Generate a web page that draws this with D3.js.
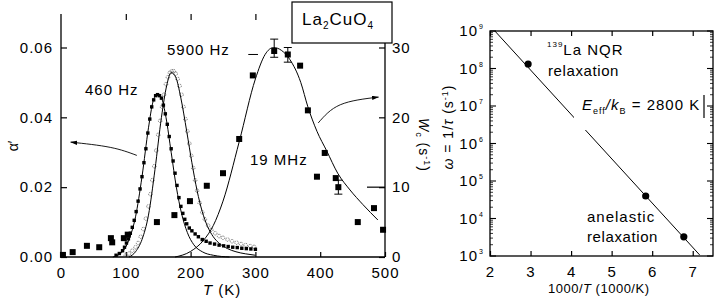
<!DOCTYPE html>
<html><head><meta charset="utf-8">
<script src="https://cdn.jsdelivr.net/npm/d3@7"></script>
<style>
body{margin:0;background:#fff}
svg{display:block}
text{font-family:"Liberation Sans",Arial,sans-serif;fill:#000}
</style></head><body><svg id="c" width="722" height="306"></svg>
<script>
// ---- Left panel data: anelastic loss alpha' vs T ----
const T460=[85,90,95,98,101,104,107,110,113,116,119,122,125,128,131,134,137,140,143,146,149,152,155,158,161,164,167,170,173,176,179,182,185,188,191,194,198,202,207,212,218,224,230,237,244,251,258,265,272,279,286,293,300];
const A460=[0.0005,0.001,0.0018,0.0028,0.004,0.0052,0.0068,0.0085,0.0105,0.013,0.016,0.0195,0.023,0.027,0.031,0.0355,0.0395,0.043,0.045,0.0462,0.0465,0.0462,0.0455,0.0435,0.041,0.038,0.0345,0.031,0.0275,0.024,0.0205,0.017,0.0145,0.0125,0.0108,0.0095,0.0083,0.0075,0.0066,0.0058,0.005,0.0045,0.004,0.0037,0.0034,0.0032,0.003,0.0028,0.0027,0.0025,0.0024,0.0023,0.0022];
const T460fit=[80,95,105,115,125,135,142,148,155,162,170,178,186,195,205,218,235,260];
const A460fit=[0,0.0015,0.005,0.0115,0.023,0.037,0.0445,0.0465,0.0455,0.040,0.030,0.020,0.0125,0.007,0.0035,0.0015,0.0005,0];
const T5900=[100,105,110,115,119,123,127,131,135,138,141,144,147,150,153,156,159,162,165,168,171,174,177,180,183,186,189,192,195,198,201,204,207,210,214,218,222,227,232,238,244,250,257,264,271,278,285,292,298];
const A5900=[0.0005,0.001,0.0018,0.0028,0.004,0.0058,0.008,0.011,0.0145,0.018,0.022,0.026,0.0305,0.035,0.039,0.043,0.0465,0.0495,0.0515,0.0528,0.0532,0.0532,0.0525,0.051,0.049,0.0465,0.043,0.0395,0.036,0.0325,0.029,0.0255,0.022,0.019,0.0155,0.0128,0.0108,0.009,0.0078,0.0068,0.006,0.0055,0.005,0.0045,0.0041,0.0037,0.0034,0.0031,0.0029];
const T5900fit=[105,115,125,135,145,155,163,170,177,185,194,202,210,218,226,235,245,257,270,285,300];
const A5900fit=[0,0.0015,0.005,0.012,0.025,0.040,0.049,0.0528,0.0515,0.0455,0.036,0.027,0.019,0.013,0.0088,0.0058,0.0038,0.0024,0.0015,0.0009,0.0005];
// 19 MHz NQR relaxation rate W_c (right axis)
const T19=[3,18,40,59,77,79,97,103,148,175,199,225,250,275,296,329,350,369,381,395,407,424,428,458,483,497];
const W19=[0.3,0.7,1.6,1.4,2.7,2.1,2.7,3.2,5.0,6.0,8.0,10.2,12.0,16.9,26.0,29.5,29.0,27.4,21.0,11.5,14.9,11.3,10.0,5.0,7.0,3.9];
const T19fit=[176,200,220,235,250,275,300,315,328,340,353,370,381,395,410,427,446,466,489];
const W19fit=[0,0.8,2.4,4.5,8.0,16.5,25.5,29,30,29.6,28.3,25,21.5,18,15.2,12.0,9.6,7.5,5.3];
const errT=[329,350,428];
const errLo=[28.6,27.9,9.0];
const errHi=[31.2,30.0,11.0];
const xTicksL=[0,100,200,300,400,500];
const aTicks=[0,0.02,0.04,0.06];
const wTicks=[0,10,20,30];
// ---- Right panel data: Arrhenius plot ----
const invT=[2.94,5.84,6.78];
const rate=[1.32e8,3.98e4,3.24e3];
const invTfit=[2.12,7.17];
const rateFit=[1e9,1.07e3];
const xTicksR=[2,3,4,5,6,7];
const rExps=[3,4,5,6,7,8,9];

const svg=d3.select("#c");
const ls="letter-spacing:1px";

// scales
const xL=d3.scaleLinear([0,500],[61,385]);
const yA=d3.scaleLinear([0,0.06],[257,47.5]);
const yW=d3.scaleLinear([0,30],[257,47.5]);
const xR=d3.scaleLinear([2,7.5],[490,713]);
const yR=d3.scaleLog([1e3,1e9],[256,31]);

svg.append("defs").append("marker").attr("id","ah").attr("viewBox","0 0 10 6")
  .attr("refX",9).attr("refY",3).attr("markerWidth",8).attr("markerHeight",5).attr("orient","auto")
  .append("path").attr("d","M0,0L10,3L0,6z").attr("fill","#000");

// ===== LEFT PANEL =====
const gL=svg.append("g");
// axes lines
gL.append("line").attr("x1",xL(0)).attr("x2",xL(0)).attr("y1",yA(0)).attr("y2",14).attr("stroke","#000").attr("stroke-width",1.3);
gL.append("line").attr("x1",xL(0)).attr("x2",xL(500)).attr("y1",yA(0)).attr("y2",yA(0)).attr("stroke","#000").attr("stroke-width",1.3);
gL.append("line").attr("x1",xL(500)).attr("x2",xL(500)).attr("y1",yA(0)).attr("y2",43).attr("stroke","#000").attr("stroke-width",1.3);

function styleAxis(g,fs){
  g.select(".domain").remove();
  g.selectAll(".tick line").attr("stroke","#000").attr("stroke-width",1.2);
  g.selectAll(".tick text").attr("font-size",fs).attr("fill","#000").attr("style",ls);
}
const axB=gL.append("g").attr("transform",`translate(0,${yA(0)})`)
  .call(d3.axisBottom(xL).tickValues(xTicksL).tickFormat(d3.format("d")).tickSizeInner(-5).tickSizeOuter(0).tickPadding(10));
styleAxis(axB,15);
const axT=gL.append("g").attr("transform","translate(0,14)")
  .call(d3.axisTop(xL).tickValues(xTicksL.slice(1,4)).tickFormat("").tickSizeInner(-6).tickSizeOuter(0));
styleAxis(axT,15);
const axLft=gL.append("g").attr("transform",`translate(${xL(0)},0)`)
  .call(d3.axisLeft(yA).tickValues(aTicks).tickFormat(d3.format(".2f")).tickSizeInner(-6).tickSizeOuter(0).tickPadding(8));
styleAxis(axLft,15);
const axR=gL.append("g").attr("transform",`translate(${xL(500)},0)`)
  .call(d3.axisRight(yW).tickValues(wTicks).tickFormat(d3.format("d")).tickSizeInner(-6).tickSizeOuter(0).tickPadding(7));
styleAxis(axR,15);
// long inner tick at W=10
gL.append("line").attr("x1",xL(500)).attr("x2",xL(500)-18).attr("y1",yW(10)).attr("y2",yW(10)).attr("stroke","#000").attr("stroke-width",1.2);

// 5900 Hz open circles
gL.append("g").selectAll("circle").data(T5900).join("circle")
  .attr("cx",(d)=>xL(d)).attr("cy",(d,i)=>yA(A5900[i])).attr("r",1.8)
  .attr("fill","none").attr("stroke","#555").attr("stroke-width",0.8).attr("stroke-dasharray","1.2,0.8");
// 460 Hz filled markers
gL.append("g").selectAll("rect").data(T460).join("rect")
  .attr("x",(d)=>xL(d)-1.7).attr("y",(d,i)=>yA(A460[i])-1.7).attr("width",3.4).attr("height",3.4).attr("fill","#000");
// fits
const lineA=(T,A)=>d3.line().x((d)=>xL(d)).y((d,i)=>yA(A[i])).curve(d3.curveMonotoneX)(T);
gL.append("path").attr("d",lineA(T460fit,A460fit)).attr("fill","none").attr("stroke","#000").attr("stroke-width",1);
gL.append("path").attr("d",lineA(T5900fit,A5900fit)).attr("fill","none").attr("stroke","#000").attr("stroke-width",1);
const lineW=d3.line().x((d)=>xL(d)).y((d,i)=>yW(W19fit[i])).curve(d3.curveMonotoneX);
gL.append("path").attr("d",lineW(T19fit)).attr("fill","none").attr("stroke","#000").attr("stroke-width",1);
// 19 MHz squares
gL.append("g").selectAll("rect").data(T19).join("rect")
  .attr("x",(d)=>xL(d)-3).attr("y",(d,i)=>yW(W19[i])-3).attr("width",6).attr("height",6).attr("fill","#000");
// error bars
const eg=gL.append("g").attr("stroke","#000").attr("stroke-width",1);
errT.forEach((t,i)=>{
  eg.append("line").attr("x1",xL(t)).attr("x2",xL(t)).attr("y1",yW(errLo[i])).attr("y2",yW(errHi[i]));
  eg.append("line").attr("x1",xL(t)-4).attr("x2",xL(t)+4).attr("y1",yW(errLo[i])).attr("y2",yW(errLo[i]));
  eg.append("line").attr("x1",xL(t)-4).attr("x2",xL(t)+4).attr("y1",yW(errHi[i])).attr("y2",yW(errHi[i]));
});
eg.append("line").attr("x1",xL(289)).attr("x2",xL(304)).attr("y1",yW(29)).attr("y2",yW(29));

// arrows
const arrL=[[117,0.0291],[76,0.0314],[15,0.0329]];
const arrR=[[397,19.2],[431,21.8],[490,22.9]];
gL.append("path").attr("d",d3.line().x((d)=>xL(d[0])).y((d)=>yA(d[1])).curve(d3.curveNatural)(arrL))
  .attr("fill","none").attr("stroke","#000").attr("stroke-width",0.9).attr("marker-end","url(#ah)");
gL.append("path").attr("d",d3.line().x((d)=>xL(d[0])).y((d)=>yW(d[1])).curve(d3.curveNatural)(arrR))
  .attr("fill","none").attr("stroke","#000").attr("stroke-width",0.9).attr("marker-end","url(#ah)");

// legend box
gL.append("rect").attr("x",292).attr("y",2).attr("width",100).attr("height",41).attr("fill","#fff").attr("stroke","#000").attr("stroke-width",1.2);
gL.append("text").attr("x",302).attr("y",25).attr("font-size",17).attr("style",ls)
  .html('La<tspan font-size="10" dy="4">2</tspan><tspan dy="-4">CuO</tspan><tspan font-size="10" dy="4">4</tspan>');
// labels
gL.append("text").attr("x",167).attr("y",55).attr("font-size",15).attr("style",ls).text("5900 Hz");
gL.append("text").attr("x",85).attr("y",95).attr("font-size",15).attr("style",ls).text("460 Hz");
gL.append("text").attr("x",250).attr("y",165).attr("font-size",15).attr("style",ls).text("19 MHz");
gL.append("text").attr("x",203).attr("y",295).attr("font-size",15).attr("style",ls)
  .html('<tspan font-style="italic">T</tspan> (K)');
gL.append("text").attr("transform","translate(18,146) rotate(-90)").attr("text-anchor","middle").attr("font-size",14).text("α′");
gL.append("text").attr("transform","translate(419,118) rotate(90)").attr("font-size",14).attr("style",ls)
  .html('<tspan font-style="italic">W</tspan><tspan font-size="9" dy="3">c</tspan><tspan dy="-3"> (s</tspan><tspan font-size="9" dy="-5">-1</tspan><tspan dy="5">)</tspan>');

// ===== RIGHT PANEL =====
const gR=svg.append("g");
gR.append("rect").attr("x",xR(2)).attr("y",yR(1e9)).attr("width",xR(7.5)-xR(2)).attr("height",yR(1e3)-yR(1e9))
  .attr("fill","none").attr("stroke","#000").attr("stroke-width",1.3);
const axRB=gR.append("g").attr("transform",`translate(0,${yR(1e3)})`)
  .call(d3.axisBottom(xR).tickValues(xTicksR).tickFormat(d3.format("d")).tickSizeInner(-5).tickSizeOuter(0).tickPadding(10));
styleAxis(axRB,15);
const axRT=gR.append("g").attr("transform",`translate(0,${yR(1e9)})`)
  .call(d3.axisTop(xR).tickValues(xTicksR).tickFormat("").tickSizeInner(-5).tickSizeOuter(0));
styleAxis(axRT,15);
// log ticks
const minor=[];
rExps.slice(0,-1).forEach(e=>{for(let m=2;m<=9;m++)minor.push(m*Math.pow(10,e));});
const majors=rExps.map(e=>Math.pow(10,e));
[xR(2),xR(7.5)].forEach((x0,k)=>{
  const s=k===0?1:-1;
  gR.append("g").selectAll("line").data(majors).join("line")
    .attr("x1",x0).attr("x2",x0+s*6).attr("y1",d=>yR(d)).attr("y2",d=>yR(d)).attr("stroke","#000").attr("stroke-width",1.1);
  gR.append("g").selectAll("line").data(minor).join("line")
    .attr("x1",x0).attr("x2",x0+s*3).attr("y1",d=>yR(d)).attr("y2",d=>yR(d)).attr("stroke","#000").attr("stroke-width",0.8);
});
// y tick labels 10^n
const lab=gR.append("g").selectAll("g").data(rExps).join("g");
lab.append("text").attr("x",478).attr("y",e=>yR(Math.pow(10,e))+5).attr("text-anchor","end").attr("font-size",15).attr("style",ls).text("10");
lab.append("text").attr("x",479).attr("y",e=>yR(Math.pow(10,e))-2).attr("font-size",7).text(e=>e);
// fit line
gR.append("path").attr("d",d3.line().x((d)=>xR(d)).y((d,i)=>yR(rateFit[i]))(invTfit)).attr("fill","none").attr("stroke","#000").attr("stroke-width",1);
// points
gR.append("g").selectAll("circle").data(invT).join("circle")
  .attr("cx",d=>xR(d)).attr("cy",(d,i)=>yR(rate[i])).attr("r",3.6).attr("fill","#000");
// label with white background
gR.append("rect").attr("x",574).attr("y",96).attr("width",124).attr("height",34).attr("fill","#fff");
gR.append("text").attr("x",582).attr("y",110).attr("font-size",15).attr("style",ls)
  .html('<tspan font-style="italic">E</tspan><tspan font-size="9" dy="4">eff</tspan><tspan dy="-4" font-style="italic">/k</tspan><tspan font-size="9" dy="4">B</tspan><tspan dy="-4"> = 2800 K</tspan>');
gR.append("line").attr("x1",704).attr("x2",704).attr("y1",95).attr("y2",118).attr("stroke","#000").attr("stroke-width",1.2);
gR.append("text").attr("x",547).attr("y",55).attr("font-size",15).attr("style",ls)
  .html('<tspan font-size="8" dy="-8">139</tspan><tspan dy="8">La NQR</tspan>');
gR.append("text").attr("x",548).attr("y",76).attr("font-size",15).attr("style","letter-spacing:0.6px").text("relaxation");
gR.append("text").attr("x",587).attr("y",222).attr("font-size",15).attr("style",ls).text("anelastic");
gR.append("text").attr("x",587).attr("y",242).attr("font-size",15).attr("style","letter-spacing:0.6px").text("relaxation");
gR.append("text").attr("x",548).attr("y",293).attr("font-size",13).attr("style","letter-spacing:0.5px")
  .html('1000/<tspan font-style="italic">T</tspan> (1000/K)');
gR.append("text").attr("transform","translate(453,127) rotate(-90)").attr("text-anchor","middle").attr("font-size",14).attr("style",ls)
  .html('<tspan font-style="italic">ω</tspan> = 1/<tspan font-style="italic">τ</tspan> (s<tspan font-size="9" dy="-5">-1</tspan><tspan dy="5">)</tspan>');
</script></body></html>
